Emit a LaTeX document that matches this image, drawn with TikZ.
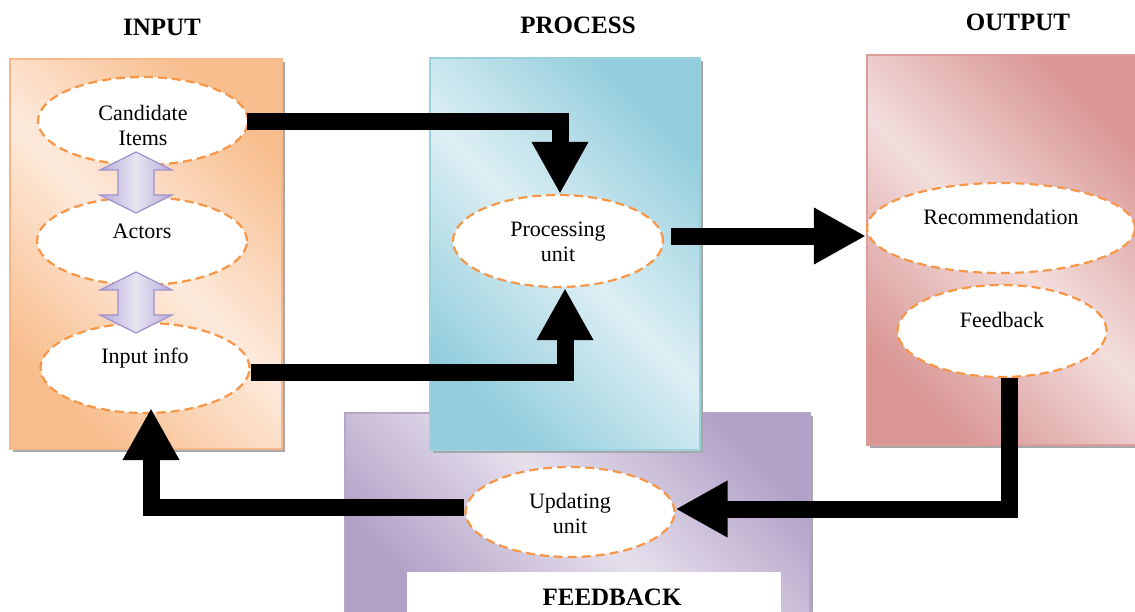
\documentclass[tikz,border=0pt]{standalone}
\usepackage{fontspec}
\setmainfont{Liberation Serif}
\usetikzlibrary{shapes.geometric,arrows.meta,calc}
\definecolor{dashor}{HTML}{F79646}
\definecolor{inpD}{HTML}{F8BD8C}
\definecolor{inpL}{HTML}{FDEADC}
\definecolor{inpB}{HTML}{F6B88A}
\definecolor{procD}{HTML}{92CDDC}
\definecolor{procL}{HTML}{DDEFF4}
\definecolor{procB}{HTML}{9DD0DE}
\definecolor{outD}{HTML}{D99694}
\definecolor{outL}{HTML}{F2DEDD}
\definecolor{outB}{HTML}{DB9C9A}
\definecolor{fbD}{HTML}{B2A1C7}
\definecolor{fbL}{HTML}{E6E0ED}
\definecolor{fbB}{HTML}{B6A6CA}
\definecolor{shad}{HTML}{A8A8A8}
\definecolor{lavD}{HTML}{B7ACD9}
\definecolor{lavL}{HTML}{E8E4F2}
\definecolor{lavB}{HTML}{A092CC}
\tikzset{
  ell/.style={ellipse, draw=dashor, fill=white, line width=2.2pt, dash pattern=on 9pt off 5pt, inner sep=0pt},
  lbl/.style={font=\fontsize{22}{25}\selectfont, align=center, inner sep=0pt},
  hdr/.style={font=\fontsize{25}{28}\selectfont\bfseries, inner sep=0pt},
  big/.style={line width=17pt, -{Triangle[length=52pt,width=53pt]}},
  panel/.style={line width=1.2pt},
  lav/.style={draw=lavB, line width=1.2pt, left color=lavD, right color=lavD, middle color=lavL}
}
\begin{document}
\begin{tikzpicture}[x=1pt,y=-1pt]
\useasboundingbox (0,0) rectangle (1135,611);
\clip (0,0) rectangle (1135,611);
\fill[white] (0,0) rectangle (1135,611);
% INPUT panel
\fill[shad] (13,62) rectangle (285,452);
\shade[top color=inpD, bottom color=inpD, middle color=inpL, shading angle=-45] (10,59) rectangle (282,449);
\draw[panel, inpB] (10,59) rectangle (282,449);
% OUTPUT panel
\fill[shad] (870,58) rectangle (1140,448);
\shade[top color=outD, bottom color=outD, middle color=outL, shading angle=-45] (867,55) rectangle (1140,445);
\draw[panel, outB] (867,55) rectangle (1140,445);
% FEEDBACK panel
\fill[shad] (348,416) rectangle (813,615);
\shade[top color=fbD, bottom color=fbD, middle color=fbL, shading angle=-45] (345,413) rectangle (810,615);
\draw[panel, fbB] (345,413) rectangle (810,615);
% PROCESS panel
\fill[shad] (433,61) rectangle (703,453);
\shade[top color=procD, bottom color=procD, middle color=procL, shading angle=-45] (430,58) rectangle (700,450);
\draw[panel, procB] (430,58) rectangle (700,450);
% white label box
\fill[white] (407,572) rectangle (781,615);
% headers
\node[hdr] (hin) at (162,27) {INPUT};
\node[hdr] (hpr) at (578,25) {PROCESS};
\node[hdr] (hout) at (1018,22) {OUTPUT};
\node[hdr] (hfb) at (612,597) {FEEDBACK};
% ellipses
\node[ell, minimum width=210, minimum height=88] (cand) at (143,121) {};
\node[ell, minimum width=210, minimum height=88] (act) at (142,241) {};
\node[ell, minimum width=209, minimum height=90] (inp) at (145,368) {};
\node[ell, minimum width=210, minimum height=92] (proc) at (558,241) {};
\node[ell, minimum width=268, minimum height=90] (rec) at (1001,228) {};
\node[ell, minimum width=209, minimum height=92] (fb) at (1002,331) {};
\node[ell, minimum width=209, minimum height=90] (upd) at (570,512) {};
% labels
\node[lbl] (tcand) at (143,125) {Candidate\\Items};
\node[lbl] (tact) at (142,231) {Actors};
\node[lbl] (tinp) at (145,358) {Input info};
\node[lbl] (tproc) at (558,242) {Processing\\unit};
\node[lbl] (trec) at (1001,217) {Recommendation};
\node[lbl] (tfb) at (1002,320) {Feedback};
\node[lbl] (tupd) at (570,513) {Updating\\unit};
% black arrows
\draw[big] ($(cand.east)+(-2,0)$) -| ($(proc.north)+(2,0)$);
\draw[big] ($(inp.east)+(0,4)$) -| ($(proc.south)+(7,0)$);
\draw[big] ($(proc.east)+(7,-5)$) -- ($(rec.west)+(0,8)$);
\draw[big] ($(fb.south)+(7,0)$) |- ($(upd.east)+(0,-3)$);
\draw[big] ($(upd.west)+(0,-5)$) -| ($(inp.south)+(6,-6)$);
% lavender double arrows
\foreach \dy in {0,120} {
  \draw[lav, line join=miter] (136,152+\dy) -- (172,170+\dy) -- (154,170+\dy) -- (154,195+\dy) -- (172,195+\dy) -- (136,213+\dy) -- (100,195+\dy) -- (118,195+\dy) -- (118,170+\dy) -- (100,170+\dy) -- cycle;
}
\end{tikzpicture}
\end{document}
